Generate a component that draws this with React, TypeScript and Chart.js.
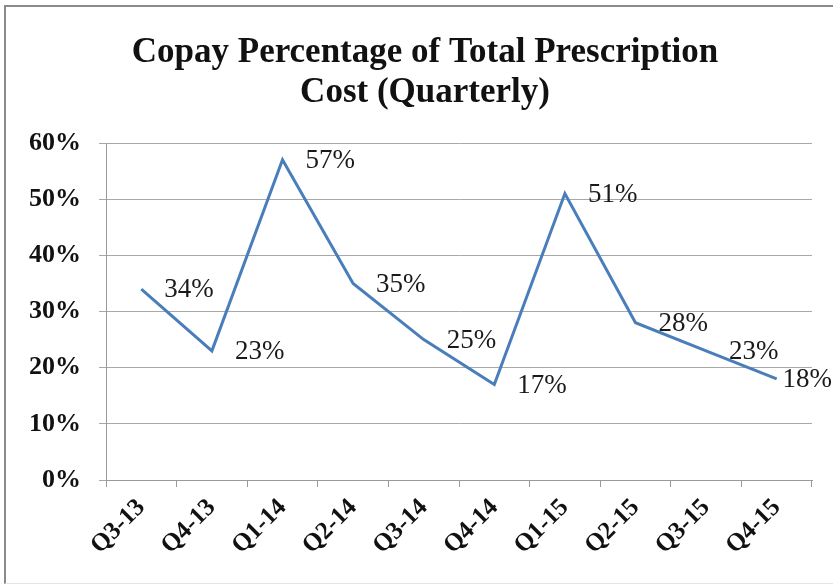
import React, { useEffect, useRef } from "react";
import { Chart, registerables } from "chart.js";

Chart.register(...registerables);

const categories = ["Q3-13", "Q4-13", "Q1-14", "Q2-14", "Q3-14", "Q4-14", "Q1-15", "Q2-15", "Q3-15", "Q4-15"];
const copayPct = [34, 23, 57, 35, 25, 17, 51, 28, 23, 18];
const yMin = 0;
const yMax = 60;
const yStep = 10;
const titleLines = ["Copay Percentage of Total Prescription", "Cost (Quarterly)"];

const FONT = '"Liberation Serif", "Times New Roman", serif';

const pointLabelPlugin = {
  id: "pointLabels",
  afterDatasetsDraw(chart: any) {
    const ctx = chart.ctx;
    const meta = chart.getDatasetMeta(0);
    ctx.save();
    ctx.font = `27px ${FONT}`;
    ctx.fillStyle = "#1a1a1a";
    ctx.textBaseline = "middle";
    ctx.textAlign = "left";
    meta.data.forEach((pt: any, i: number) => {
      const txt = copayPct[i] + "%";
      const w = ctx.measureText(txt).width;
      let x = pt.x + 23;
      if (x + w > chart.width - 1) x = chart.width - 1 - w;
      ctx.fillText(txt, x, pt.y + 1);
    });
    ctx.restore();
  },
};

const titlePlugin = {
  id: "centeredTitle",
  afterDraw(chart: any) {
    const ctx = chart.ctx;
    ctx.save();
    ctx.font = `bold 35px ${FONT}`;
    ctx.fillStyle = "#111";
    ctx.textAlign = "center";
    ctx.textBaseline = "alphabetic";
    titleLines.forEach((line, i) => {
      ctx.fillText(line, 425, 62 + i * 39.5);
    });
    ctx.restore();
  },
};

export default function App() {
  const ref = useRef<HTMLCanvasElement | null>(null);

  useEffect(() => {
    document.body.style.margin = "0";
    if (!ref.current) return;
    const chart = new Chart(ref.current, {
      type: "line",
      data: {
        labels: categories,
        datasets: [
          {
            data: copayPct,
            borderColor: "#4A7EBB",
            borderWidth: 3,
            pointRadius: 0,
            tension: 0,
            fill: false,
          },
        ],
      },
      options: {
        responsive: false,
        animation: false,
        layout: { padding: { left: 0, right: 21, top: 143, bottom: 0 } },
        plugins: {
          legend: { display: false },
          tooltip: { enabled: false },
          title: { display: false },
        },
        scales: {
          x: {
            type: "category",
            offset: true,
            afterFit: (s: any) => {
              s.height = 108;
            },
            grid: {
              display: true,
              drawOnChartArea: false,
              drawTicks: true,
              tickLength: 7,
              color: "#9a9a9a",
              offset: true,
            },
            border: { display: true, color: "#9a9a9a", width: 1 },
            ticks: {
              color: "#111",
              font: { family: FONT, size: 25, weight: "bold" },
              minRotation: 45,
              maxRotation: 45,
              autoSkip: false,
              padding: 6,
            },
          },
          y: {
            min: yMin,
            max: yMax,
            afterFit: (s: any) => {
              s.width = 106;
            },
            grid: {
              color: "#a8a8a8",
              lineWidth: 1,
              drawTicks: true,
              tickLength: 7,
            },
            border: { display: true, color: "#9a9a9a", width: 1 },
            ticks: {
              stepSize: yStep,
              color: "#111",
              font: { family: FONT, size: 26, weight: "bold" },
              padding: 18,
              callback: (v: any) => v + "%",
            },
          },
        },
      },
      plugins: [pointLabelPlugin, titlePlugin],
    });
    return () => chart.destroy();
  }, []);

  return (
    <div style={{ position: "relative", width: 833, height: 588, overflow: "hidden", background: "#fff" }}>
      <canvas ref={ref} width={833} height={588} style={{ display: "block" }} />
      <div
        style={{
          position: "absolute",
          left: 4,
          top: 5,
          width: 1000,
          height: 576,
          borderTop: "2px solid #8a8a8a",
          borderLeft: "2px solid #8a8a8a",
          borderBottom: "1px solid #e4e4e4",
          pointerEvents: "none",
        }}
      />
    </div>
  );
}
